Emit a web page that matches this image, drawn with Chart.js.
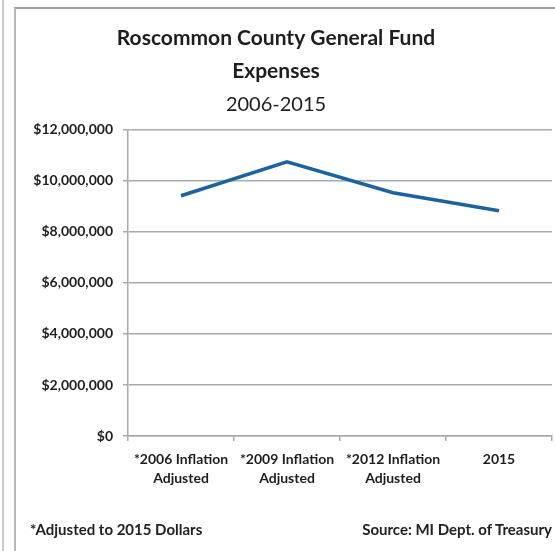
<!DOCTYPE html>
<html>
<head>
<meta charset="utf-8">
<script src="https://cdn.jsdelivr.net/npm/chart.js@4/dist/chart.umd.min.js"></script>
<style>
  html, body { margin: 0; padding: 0; background: #fff; }
  #wrap { position: relative; width: 555px; height: 551px; overflow: hidden; font-family: Lato, "Open Sans", sans-serif; }
  #frame { position: absolute; left: 14px; top: 7px; width: 545px; height: 560px; border-left: 2px solid #b4b8bc; border-top: 2px solid #9ea3a8; }
  #edge { position: absolute; left: 2px; top: 0; width: 2px; height: 551px; background: #c8cbce; }
  #chartBox { position: absolute; left: 0; top: 0; width: 555px; height: 551px; }
  .note { position: absolute; top: 520px; font-size: 15px; font-weight: bold; color: #222; white-space: nowrap; }
</style>
</head>
<body>
<div id="wrap">
  <div id="edge"></div>
  <div id="frame"></div>
  <div id="chartBox"><canvas id="expenseChart" width="555" height="551"></canvas></div>
  <div class="note" style="left:30px;">*Adjusted to 2015 Dollars</div>
  <div class="note" style="right:3px;">Source: MI Dept. of Treasury</div>
</div>
<script>
const categories = [
    ['*2006 Inflation', 'Adjusted'],
    ['*2009 Inflation', 'Adjusted'],
    ['*2012 Inflation', 'Adjusted'],
    '2015'
];
const expenses = [9420000, 10750000, 9540000, 8830000];
const yTicks = [0, 2000000, 4000000, 6000000, 8000000, 10000000, 12000000];

const gridGray = '#a6abb0';
const textColor = '#1e1e1e';

function money(v) {
    return '$' + v.toLocaleString('en-US');
}

const ctx = document.getElementById('expenseChart').getContext('2d');

new Chart(ctx, {
    type: 'line',
    data: {
        labels: categories,
        datasets: [{
            label: 'General Fund Expenses',
            data: expenses,
            borderColor: '#1b64a0',
            borderWidth: 3.5,
            pointRadius: 0,
            tension: 0,
            fill: false,
        }]
    },
    options: {
        responsive: false,
        animation: false,
        layout: {
            padding: { top: 22, left: 0, right: 3, bottom: 55 }
        },
        plugins: {
            legend: { display: false },
            tooltip: { enabled: false },
            title: {
                display: true,
                text: ['Roscommon County General Fund', 'Expenses'],
                color: textColor,
                font: { family: 'Lato', size: 21, weight: 'bold', lineHeight: 1.57 },
                padding: { top: 0, bottom: 0 },
            },
            subtitle: {
                display: true,
                text: '2006-2015',
                color: textColor,
                font: { family: 'Lato', size: 20, weight: 'normal', lineHeight: 1.65 },
                padding: { top: 0, bottom: 9 },
            },
        },
        scales: {
            x: {
                offset: true,
                grid: {
                    offset: true,
                    drawOnChartArea: false,
                    drawTicks: true,
                    tickLength: 5,
                    color: gridGray,
                    lineWidth: 1.5,
                },
                border: { color: gridGray, width: 1.5 },
                ticks: {
                    color: textColor,
                    padding: 9,
                    maxRotation: 0,
                    autoSkip: false,
                    font: { family: 'Lato', size: 14, weight: 'bold', lineHeight: 1.36 },
                },
                afterFit: scale => { scale.height = 60; },
            },
            y: {
                min: 0,
                max: 12000000,
                afterBuildTicks: scale => {
                    scale.ticks = yTicks.map(v => ({ value: v }));
                },
                grid: {
                    color: gridGray,
                    lineWidth: 1.5,
                    drawTicks: true,
                    tickLength: 5,
                },
                border: { color: gridGray, width: 1.5 },
                ticks: {
                    color: textColor,
                    padding: 10,
                    font: { family: 'Lato', size: 14, weight: 'bold' },
                    callback: v => money(v),
                },
                afterFit: scale => { scale.width = 128; },
            },
        },
    },
});
</script>
</body>
</html>
